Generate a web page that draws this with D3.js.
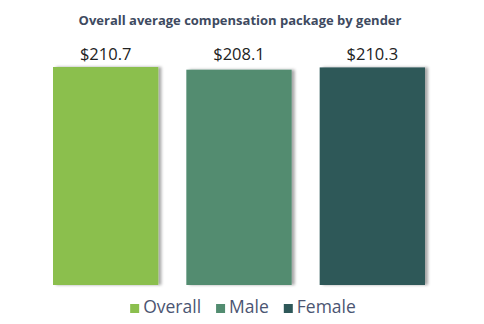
<!DOCTYPE html>
<html>
<head>
<meta charset="utf-8">
<script src="https://cdn.jsdelivr.net/npm/d3@7"></script>
<style>
  html, body { margin: 0; padding: 0; background: #fff; }
  svg { display: block; }
</style>
</head>
<body>
<svg id="chart" width="484" height="324"></svg>
<script>
// Average compensation package (in $K) by gender
const categories = ["Overall", "Male", "Female"];
const values = [210.7, 208.1, 210.3];
const colors = ["#8bbf4e", "#528c70", "#2e5859"];
const title = "Overall average compensation package by gender";

const svg = d3.select("#chart");
const W = 484, H = 324;
const font = "'Open Sans', 'DejaVu Sans', sans-serif";

// soft shadow on the right edge of each bar
const defs = svg.append("defs");
const f = defs.append("filter").attr("id", "barShadow")
  .attr("x", "-10%").attr("y", "-10%").attr("width", "130%").attr("height", "120%");
f.append("feDropShadow").attr("dx", 3).attr("dy", 0).attr("stdDeviation", 1.4)
  .attr("flood-color", "#000").attr("flood-opacity", 0.35);

const x = d3.scaleBand().domain(categories).range([39, 439])
  .paddingInner(0.21).paddingOuter(0.105);
const y = d3.scaleLinear().domain([0, 210.7]).range([285, 67]);

svg.append("text")
  .attr("x", 240).attr("y", 25)
  .attr("text-anchor", "middle")
  .attr("font-family", font).attr("font-weight", 700).attr("font-size", 13)
  .attr("fill", "#3e4a60")
  .text(title);

const data = categories.map((c, i) => ({ c, v: values[i], col: colors[i] }));

svg.append("g").selectAll("rect").data(data).join("rect")
  .attr("x", d => x(d.c))
  .attr("y", d => y(d.v))
  .attr("width", x.bandwidth())
  .attr("height", d => y(0) - y(d.v))
  .attr("fill", d => d.col)
  .attr("filter", "url(#barShadow)");

// value labels share one baseline above the bars
svg.append("g").selectAll("text").data(data).join("text")
  .attr("x", d => x(d.c) + x.bandwidth() / 2)
  .attr("y", 60)
  .attr("text-anchor", "middle")
  .attr("font-family", font).attr("font-size", 16.5)
  .attr("fill", "#222")
  .text(d => "$" + d3.format(".1f")(d.v));

// legend
const legend = svg.append("g");
const items = legend.selectAll("g").data(data).join("g");
items.append("rect").attr("width", 9).attr("height", 9).attr("y", -9)
  .attr("fill", d => d.col);
items.append("text").attr("x", 13).attr("y", 0)
  .attr("font-family", font).attr("font-size", 17.5)
  .attr("fill", "#4b5572")
  .text(d => d.c);
let cx = 0;
items.each(function () {
  const g = d3.select(this);
  g.attr("transform", `translate(${cx},0)`);
  cx += this.getBBox().width + 15;
});
const totalW = cx - 15;
legend.attr("transform", `translate(${(W - totalW) / 2 + 1},313)`);
</script>
</body>
</html>
